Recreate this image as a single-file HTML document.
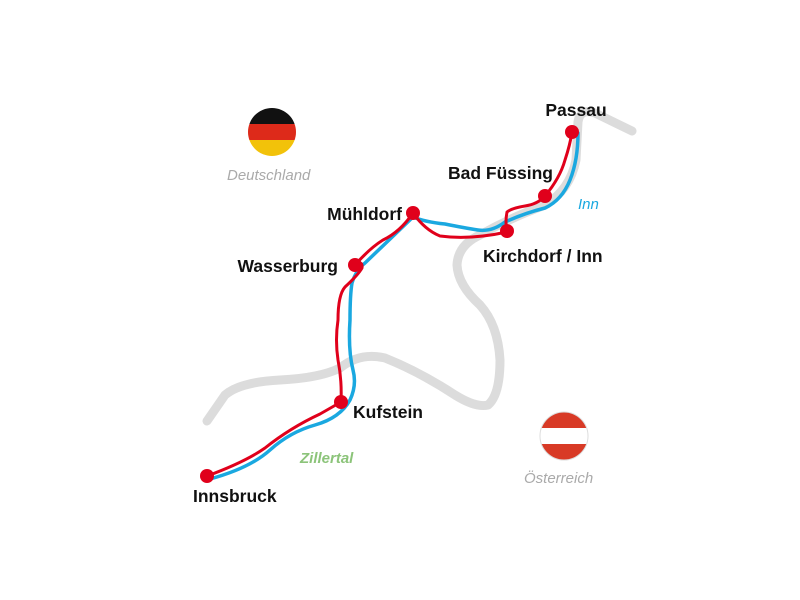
<!DOCTYPE html>
<html><head><meta charset="utf-8"><style>
html,body{margin:0;padding:0;background:#fff;width:800px;height:600px;overflow:hidden}
svg{display:block}
.b{font-family:"Liberation Sans",sans-serif;font-weight:bold;font-size:17.5px;fill:#111}
.i{font-family:"Liberation Sans",sans-serif;font-style:italic;font-size:15px}
</style></head><body>
<svg width="800" height="600" viewBox="0 0 800 600">
<defs>
<clipPath id="cd"><circle cx="272" cy="132" r="24"/></clipPath>
<clipPath id="ca"><circle cx="564" cy="436" r="24"/></clipPath>
</defs>
<g fill="none" stroke="#dcdcdc" stroke-width="9" stroke-linecap="round" stroke-linejoin="round">
<path d="M632,131 L595,113 Q580,108 578,122 L576,160 Q570,190 545,205 Q510,218 480,235 Q458,245 457,265 Q458,285 480,305 Q498,325 500,360 Q500,395 488,405 Q476,408 455,395 Q420,372 385,358 Q360,352 340,368 Q320,378 280,380 Q240,382 225,395 L207,421"/>
</g>
<g fill="none" stroke="#1aa8e0" stroke-width="3.5" stroke-linecap="round" stroke-linejoin="round">
<path d="M210,479 Q250,468 270,450 Q290,432 315,425 Q340,418 350,400 Q357,385 353,370 Q348,350 350,320 Q350,295 352,283 Q356,270 365,263 L413,217 Q425,222 445,224 Q465,228 478,230 Q492,232 505,222 Q525,213 545,208 Q562,200 570,180 Q578,160 578,133"/>
</g>
<g fill="none" stroke="#e0001b" stroke-width="3" stroke-linecap="round" stroke-linejoin="round">
<path d="M207,476 Q245,462 265,448 Q290,428 320,414 L341,402 Q342,380 338,360 Q335,340 338,320 Q338,295 345,287 Q358,275 362,268 Q363,260 355,265 Q370,248 383,240 Q400,232 413,213 Q425,230 440,236 Q470,240 507,232 Q505,222 507,212 Q512,208 525,206 Q538,204 545,196 Q560,178 565,160 Q570,145 572,132"/>
</g>
<g fill="#e0001b">
<circle cx="572" cy="132" r="7"/><circle cx="545" cy="196" r="7"/><circle cx="413" cy="213" r="7"/>
<circle cx="507" cy="231" r="7"/><circle cx="355" cy="265" r="7"/><circle cx="341" cy="402" r="7"/><circle cx="207" cy="476" r="7"/>
</g>
<g clip-path="url(#cd)">
<rect x="246" y="106" width="52" height="18" fill="#111"/>
<rect x="246" y="124" width="52" height="16" fill="#dd2a1a"/>
<rect x="246" y="140" width="52" height="18" fill="#f2c20a"/>
</g>
<g clip-path="url(#ca)">
<rect x="538" y="410" width="52" height="18" fill="#d83a26"/>
<rect x="538" y="428" width="52" height="16" fill="#fff"/>
<rect x="538" y="444" width="52" height="18" fill="#d83a26"/>
</g>
<circle cx="564" cy="436" r="24" fill="none" stroke="#ddd" stroke-width="1"/>
<text class="b" x="576" y="116" text-anchor="middle">Passau</text>
<text class="b" x="553" y="179" text-anchor="end">Bad Füssing</text>
<text class="b" x="402" y="220" text-anchor="end">Mühldorf</text>
<text class="b" x="338" y="272" text-anchor="end">Wasserburg</text>
<text class="b" x="483" y="262">Kirchdorf / Inn</text>
<text class="b" x="353" y="418">Kufstein</text>
<text class="b" x="193" y="502">Innsbruck</text>
<text class="i" x="578" y="209" fill="#1aa8e0">Inn</text>
<text class="i" x="300" y="463" fill="#8cc47a" font-weight="bold">Zillertal</text>
<text class="i" x="227" y="180" fill="#aaa">Deutschland</text>
<text class="i" x="524" y="483" fill="#aaa">Österreich</text>
</svg>
</body></html>
